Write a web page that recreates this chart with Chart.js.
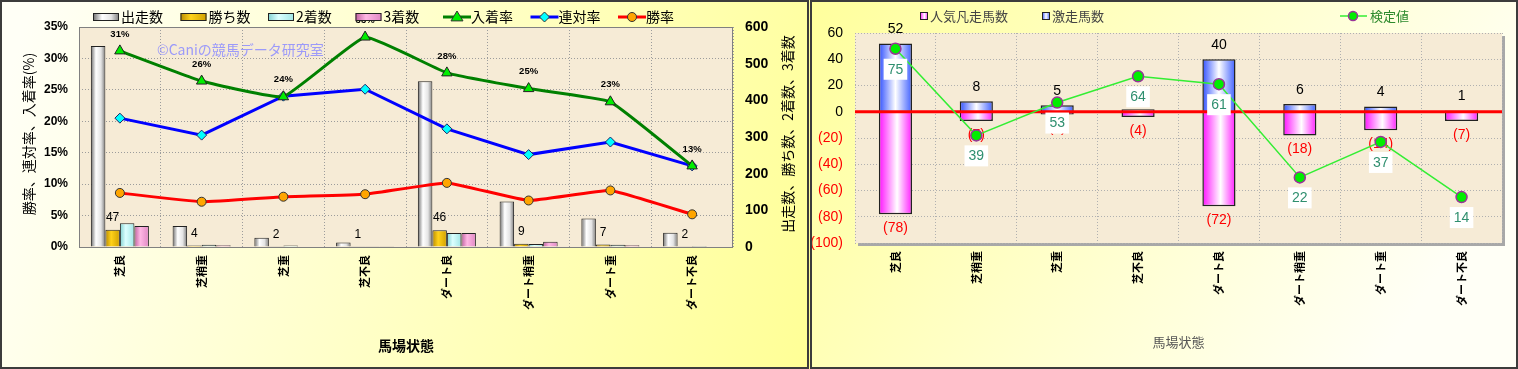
<!DOCTYPE html>
<html lang="ja">
<head>
<meta charset="UTF-8">
<title>馬場状態</title>
<script src="https://cdn.jsdelivr.net/npm/chart.js"></script>
<style>
  body { margin: 0; width: 1518px; height: 369px; overflow: hidden; background: #fff; }
  #wrapL { position: absolute; left: 0; top: 0; width: 810px; height: 369px; }
  #wrapR { position: absolute; left: 810px; top: 0; width: 708px; height: 369px; }
</style>
</head>
<body>
<div id="wrapL"><canvas id="grafL" width="810" height="369"></canvas></div>
<div id="wrapR"><canvas id="grafR" width="708" height="369"></canvas></div>
<script>
    const baba = ['芝良', '芝稍重', '芝重', '芝不良', 'ダート良', 'ダート稍重', 'ダート重', 'ダート不良'];

    // 左: 件数 (右軸) と率 (左軸, %)
    const shussou = [548, 57, 25, 12, 452, 124, 78, 39];
    const kachi = [47, 4, 2, 1, 46, 9, 7, 2];
    const niChaku = [65, 6, 4, 2, 38, 8, 6, 3];
    const sanChaku = [57, 5, 0, 1, 38, 14, 5, 0];
    const nyuuchakuRitsu = [31.2, 26.4, 23.9, 33.4, 27.7, 25.2, 23.1, 12.9];
    const rentaiRitsu = [20.5, 17.8, 24.0, 25.1, 18.8, 14.7, 16.7, 12.9];
    const shouRitsu = [8.6, 7.2, 8.0, 8.4, 10.2, 7.4, 9.0, 5.2];

    // 右: 激走馬数 / 人気凡走馬数 / 検定値
    const gekisou = [52, 8, 5, 2, 40, 6, 4, 1];
    const ninkiBonsou = [-78, -7, -2, -4, -72, -18, -14, -7];
    const kenteiPos = [48, -18, 7, 27, 21, -50, -23, -65];
    const kenteiLabels = ['75', '39', '53', '64', '61', '22', '37', '14'];

    const JP = '"Noto Sans CJK JP", "Noto Sans", sans-serif';
    const NUM = '"Liberation Sans", Arial, sans-serif';

    const gCinza = [[0, '#6a6a6a'], [0.35, '#ffffff'], [0.7, '#e4e4e4'], [1, '#7a7a7a']];
    const gOuro = [[0, '#b88a00'], [0.4, '#ffd21a'], [1, '#d0a000']];
    const gCiano = [[0, '#80d0d0'], [0.4, '#dcffff'], [1, '#a0e6e6']];
    const gRosa = [[0, '#c060a0'], [0.4, '#ffb8e4'], [1, '#e088c4']];
    const gAzul = [[0, '#3050ff'], [0.5, '#ffffff'], [1, '#4060ff']];
    const gMagenta = [[0, '#ff10ff'], [0.55, '#ffffff'], [1, '#ff20ff']];

    function gradBarra(ctx, stops, nGrupo, idx, catPct) {
        const chart = ctx.chart;
        const x = chart.scales.x;
        if (ctx.dataIndex === undefined || !x || !isFinite(x.left) || x.right <= x.left) return stops[1][1];
        const catW = (x.right - x.left) / baba.length;
        const grupoW = catW * catPct;
        const barW = grupoW / nGrupo;
        const esq = x.getPixelForValue(ctx.dataIndex) - grupoW / 2 + idx * barW;
        const g = chart.ctx.createLinearGradient(esq, 0, esq + barW, 0);
        stops.forEach(s => g.addColorStop(s[0], s[1]));
        return g;
    }

    function caixaGrad(ctx, x, y, w, h, stops) {
        const g = ctx.createLinearGradient(x, 0, x + w, 0);
        stops.forEach(s => g.addColorStop(s[0], s[1]));
        ctx.fillStyle = g;
        ctx.fillRect(x, y, w, h);
        ctx.strokeStyle = '#222';
        ctx.lineWidth = 1;
        ctx.strokeRect(x + 0.5, y + 0.5, w - 1, h - 1);
    }

    function marca(ctx, estilo, x, y, r, fundo, borda, lw) {
        ctx.save();
        ctx.beginPath();
        if (estilo === 'triangle') {
            ctx.moveTo(x, y - r);
            ctx.lineTo(x + r, y + r * 0.65);
            ctx.lineTo(x - r, y + r * 0.65);
            ctx.closePath();
        } else if (estilo === 'rectRot') {
            ctx.moveTo(x, y - r); ctx.lineTo(x + r, y); ctx.lineTo(x, y + r); ctx.lineTo(x - r, y);
            ctx.closePath();
        } else {
            ctx.arc(x, y, r, 0, Math.PI * 2);
        }
        ctx.fillStyle = fundo;
        ctx.fill();
        ctx.strokeStyle = borda;
        ctx.lineWidth = lw;
        ctx.stroke();
        ctx.restore();
    }

    function textoVertical(ctx, txt, x, y, font, cor) {
        ctx.save();
        ctx.translate(x, y);
        ctx.rotate(-Math.PI / 2);
        ctx.font = font;
        ctx.fillStyle = cor;
        ctx.textAlign = 'center';
        ctx.textBaseline = 'middle';
        ctx.fillText(txt, 0, 0);
        ctx.restore();
    }

    const gradeTracejada = { color: '#9c9c9c', lineWidth: 1, drawTicks: false };
    const bordaTracejada = { display: false, dash: [1, 2] };

    // ---------- 左グラフ ----------
    const pluginL = {
        id: 'pluginL',
        beforeDraw(chart) {
            const { ctx, width, height, chartArea: a } = chart;
            ctx.save();
            const g = ctx.createLinearGradient(0, 100, width, height);
            g.addColorStop(0, '#fffff6');
            g.addColorStop(1, '#ffff96');
            ctx.fillStyle = g;
            ctx.fillRect(0, 0, width, height);
            ctx.fillStyle = '#f6ebd6';
            ctx.fillRect(a.left, a.top, a.right - a.left, a.bottom - a.top);
            ctx.restore();
        },
        beforeDatasetsDraw(chart) {
            const { ctx, chartArea: a } = chart;
            ctx.save();
            ctx.strokeStyle = '#808080';
            ctx.lineWidth = 1;
            ctx.strokeRect(a.left + 0.5, a.top + 0.5, a.right - a.left - 1, a.bottom - a.top);
            ctx.font = '14px ' + JP;
            ctx.fillStyle = 'rgba(140,140,255,0.85)';
            ctx.textBaseline = 'middle';
            ctx.fillText('©Caniの競馬データ研究室', 157, 50);
            ctx.restore();
        },
        afterDatasetsDraw(chart) {
            const ctx = chart.ctx;
            ctx.save();
            ctx.fillStyle = '#000';
            ctx.textAlign = 'center';
            ctx.textBaseline = 'middle';
            ctx.font = '12px ' + NUM;
            chart.getDatasetMeta(1).data.forEach((el, i) => {
                ctx.fillText(String(kachi[i]), el.x, el.y - 12);
            });
            ctx.font = 'bold 9.5px ' + NUM;
            chart.getDatasetMeta(4).data.forEach((el, i) => {
                ctx.fillText(Math.round(nyuuchakuRitsu[i]) + '%', el.x, el.y - 17);
            });
            ctx.restore();
        },
        afterDraw(chart) {
            const { ctx, width, height } = chart;
            ctx.save();
            // 凡例
            ctx.font = '14px ' + JP;
            ctx.textBaseline = 'middle';
            chart.data.datasets.forEach((ds, i) => {
                const x = 93 + i * 87.5;
                const y = 17;
                if (ds.type === 'bar') {
                    caixaGrad(ctx, x, y - 4, 26, 8, ds.grad);
                } else {
                    ctx.strokeStyle = ds.borderColor;
                    ctx.lineWidth = 3;
                    ctx.beginPath();
                    ctx.moveTo(x, y);
                    ctx.lineTo(x + 28, y);
                    ctx.stroke();
                    marca(ctx, ds.pointStyle, x + 14, y, ds.pointRadius, ds.pointBackgroundColor, '#333', 1);
                }
                ctx.fillStyle = '#000';
                ctx.fillText(ds.label, x + 28, y);
            });
            textoVertical(ctx, '勝率、連対率、入着率(%)', 29, 134, '14px ' + JP, '#000');
            textoVertical(ctx, '出走数、勝ち数、2着数、3着数', 788, 134, '14px ' + JP, '#000');
            ctx.strokeStyle = '#3c3c3c';
            ctx.lineWidth = 2;
            ctx.strokeRect(1, 1, width - 3, height - 2);
            ctx.restore();
        }
    };

    function barraL(label, dados, stops, idx) {
        return {
            type: 'bar', label, data: dados, yAxisID: 'yR', order: 1, grad: stops,
            backgroundColor: c => gradBarra(c, stops, 4, idx, 0.71),
            borderColor: '#222', borderWidth: 1,
            categoryPercentage: 0.71, barPercentage: 1
        };
    }

    new Chart(document.getElementById('grafL'), {
        data: {
            labels: baba,
            datasets: [
                barraL('出走数', shussou, gCinza, 0),
                barraL('勝ち数', kachi, gOuro, 1),
                barraL('2着数', niChaku, gCiano, 2),
                barraL('3着数', sanChaku, gRosa, 3),
                {
                    type: 'line', label: '入着率', data: nyuuchakuRitsu, yAxisID: 'y', order: 0,
                    borderColor: '#008000', borderWidth: 3, tension: 0.1,
                    pointStyle: 'triangle', pointRadius: 6, pointBackgroundColor: '#00ee00',
                    pointBorderColor: '#222', pointBorderWidth: 1
                },
                {
                    type: 'line', label: '連対率', data: rentaiRitsu, yAxisID: 'y', order: 0,
                    borderColor: '#0000ff', borderWidth: 3, tension: 0,
                    pointStyle: 'rectRot', pointRadius: 5, pointBackgroundColor: '#00ffff',
                    pointBorderColor: '#226', pointBorderWidth: 1
                },
                {
                    type: 'line', label: '勝率', data: shouRitsu, yAxisID: 'y', order: 0,
                    borderColor: '#ff0000', borderWidth: 3, tension: 0.1,
                    pointStyle: 'circle', pointRadius: 4.5, pointBackgroundColor: '#ffa500',
                    pointBorderColor: '#333', pointBorderWidth: 1
                }
            ]
        },
        options: {
            responsive: false,
            animation: false,
            layout: { padding: { top: 27, left: 0, right: 0, bottom: 0 } },
            plugins: { legend: { display: false }, tooltip: { enabled: false } },
            scales: {
                x: {
                    grid: gradeTracejada,
                    border: bordaTracejada,
                    ticks: {
                        autoSkip: false, minRotation: 90, maxRotation: 90, padding: 8,
                        color: '#000', font: { family: JP, size: 11, weight: 'bold' }
                    },
                    title: {
                        display: true, text: '馬場状態', color: '#000',
                        font: { family: JP, size: 14, weight: 'bold' },
                        padding: { top: 0, bottom: 15 }
                    },
                    afterFit(s) { s.height = 122; }
                },
                y: {
                    position: 'left', min: 0, max: 35,
                    grid: gradeTracejada,
                    border: bordaTracejada,
                    ticks: {
                        stepSize: 5, padding: 11, color: '#000',
                        font: { family: NUM, size: 12, weight: 'bold' },
                        callback: v => v + '%'
                    },
                    afterFit(s) { s.width = 79; }
                },
                yR: {
                    position: 'right', min: 0, max: 600,
                    grid: { drawOnChartArea: false, drawTicks: false },
                    border: { display: false },
                    ticks: {
                        stepSize: 100, padding: 12, color: '#000',
                        font: { family: NUM, size: 14, weight: 'bold' }
                    },
                    afterFit(s) { s.width = 77; }
                }
            }
        },
        plugins: [pluginL]
    });

    // ---------- 右グラフ ----------
    const pluginR = {
        id: 'pluginR',
        beforeDraw(chart) {
            const { ctx, width, height, chartArea: a } = chart;
            ctx.save();
            const g = ctx.createLinearGradient(0, 0, width * 0.8, height);
            g.addColorStop(0, '#ffff9c');
            g.addColorStop(1, '#fffff6');
            ctx.fillStyle = g;
            ctx.fillRect(0, 0, width, height);
            ctx.fillStyle = '#a8a8a8';
            ctx.fillRect(a.left + 3, a.top + 3, a.right - a.left, a.bottom - a.top);
            ctx.fillStyle = '#f6ebd6';
            ctx.fillRect(a.left, a.top, a.right - a.left, a.bottom - a.top);
            ctx.restore();
        },
        beforeDatasetDraw(chart, args) {
            if (args.index !== 0) return;
            const { ctx, chartArea: a } = chart;
            const y0 = chart.scales.y.getPixelForValue(0);
            ctx.save();
            ctx.strokeStyle = '#ff0000';
            ctx.lineWidth = 3;
            ctx.beginPath();
            ctx.moveTo(a.left, y0);
            ctx.lineTo(a.right, y0);
            ctx.stroke();
            ctx.textAlign = 'center';
            ctx.textBaseline = 'middle';
            ctx.font = '14px ' + NUM;
            ctx.fillStyle = '#000';
            chart.getDatasetMeta(1).data.forEach((el, i) => {
                ctx.fillText(String(gekisou[i]), el.x, el.y - 14);
            });
            ctx.fillStyle = '#ff0000';
            chart.getDatasetMeta(2).data.forEach((el, i) => {
                ctx.fillText('(' + (-ninkiBonsou[i]) + ')', el.x, el.y + 14);
            });
            ctx.restore();
        },
        afterDatasetsDraw(chart) {
            const ctx = chart.ctx;
            ctx.save();
            ctx.font = '14px ' + NUM;
            ctx.textAlign = 'center';
            ctx.textBaseline = 'middle';
            chart.getDatasetMeta(0).data.forEach((el, i) => {
                const t = kenteiLabels[i];
                const w = ctx.measureText(t).width + 8;
                ctx.fillStyle = '#ffffff';
                ctx.fillRect(el.x - w / 2, el.y + 10, w, 21);
                ctx.fillStyle = '#2f8f6f';
                ctx.fillText(t, el.x, el.y + 21);
            });
            ctx.restore();
        },
        afterDraw(chart) {
            const { ctx, width, height } = chart;
            ctx.save();
            ctx.font = '13px ' + JP;
            ctx.textBaseline = 'middle';
            const y = 16;
            const bonsou = chart.data.datasets[2];
            const geki = chart.data.datasets[1];
            const kentei = chart.data.datasets[0];
            caixaGrad(ctx, 110, y - 4, 8, 8, gMagenta);
            ctx.fillStyle = '#444';
            ctx.fillText(bonsou.label, 120, y);
            caixaGrad(ctx, 232, y - 4, 8, 8, gAzul);
            ctx.fillStyle = '#444';
            ctx.fillText(geki.label, 242, y);
            ctx.strokeStyle = kentei.borderColor;
            ctx.lineWidth = 1.5;
            ctx.beginPath();
            ctx.moveTo(530, y);
            ctx.lineTo(557, y);
            ctx.stroke();
            marca(ctx, 'circle', 543, y, 4.5, '#00ee00', '#993399', 1.5);
            ctx.fillStyle = '#2d8a2d';
            ctx.fillText(kentei.label, 560, y);
            ctx.strokeStyle = '#3c3c3c';
            ctx.lineWidth = 2;
            ctx.strokeRect(1, 1, width - 2, height - 2);
            ctx.restore();
        }
    };

    function barraR(label, dados, stops) {
        return {
            type: 'bar', label, data: dados, order: 1, stack: 'b',
            backgroundColor: c => gradBarra(c, stops, 1, 0, 0.41),
            borderColor: '#222', borderWidth: 1.5,
            categoryPercentage: 1, barPercentage: 0.41
        };
    }

    new Chart(document.getElementById('grafR'), {
        data: {
            labels: baba,
            datasets: [
                {
                    type: 'line', label: '検定値', data: kenteiPos, order: 0, stack: 'k',
                    borderColor: '#33ee33', borderWidth: 1.5, tension: 0,
                    pointStyle: 'circle', pointRadius: 5.5, pointBackgroundColor: '#00ee00',
                    pointBorderColor: '#993399', pointBorderWidth: 1.5
                },
                barraR('激走馬数', gekisou, gAzul),
                barraR('人気凡走馬数', ninkiBonsou, gMagenta)
            ]
        },
        options: {
            responsive: false,
            animation: false,
            layout: { padding: { top: 33, left: 0, right: 16, bottom: 0 } },
            plugins: { legend: { display: false }, tooltip: { enabled: false } },
            scales: {
                x: {
                    stacked: true,
                    grid: { color: '#b0b0b0', lineWidth: 1, drawTicks: false, offset: true },
                    border: bordaTracejada,
                    ticks: {
                        autoSkip: false, minRotation: 90, maxRotation: 90, padding: 8,
                        color: '#000', font: { family: JP, size: 11, weight: 'bold' }
                    },
                    title: {
                        display: true, text: '馬場状態', color: '#555',
                        font: { family: JP, size: 13 },
                        padding: { top: 0, bottom: 19 }
                    },
                    afterFit(s) { s.height = 126; }
                },
                y: {
                    stacked: true, min: -100, max: 60,
                    grid: { color: '#b0b0b0', lineWidth: 1, drawTicks: false },
                    border: bordaTracejada,
                    ticks: {
                        stepSize: 20, padding: 12,
                        color: c => c.tick && c.tick.value < 0 ? '#ff0000' : '#000',
                        font: { family: NUM, size: 14 },
                        callback: v => v < 0 ? '(' + (-v) + ')' : String(v)
                    },
                    afterFit(s) { s.width = 45; }
                }
            }
        },
        plugins: [pluginR]
    });
</script>
</body>
</html>
